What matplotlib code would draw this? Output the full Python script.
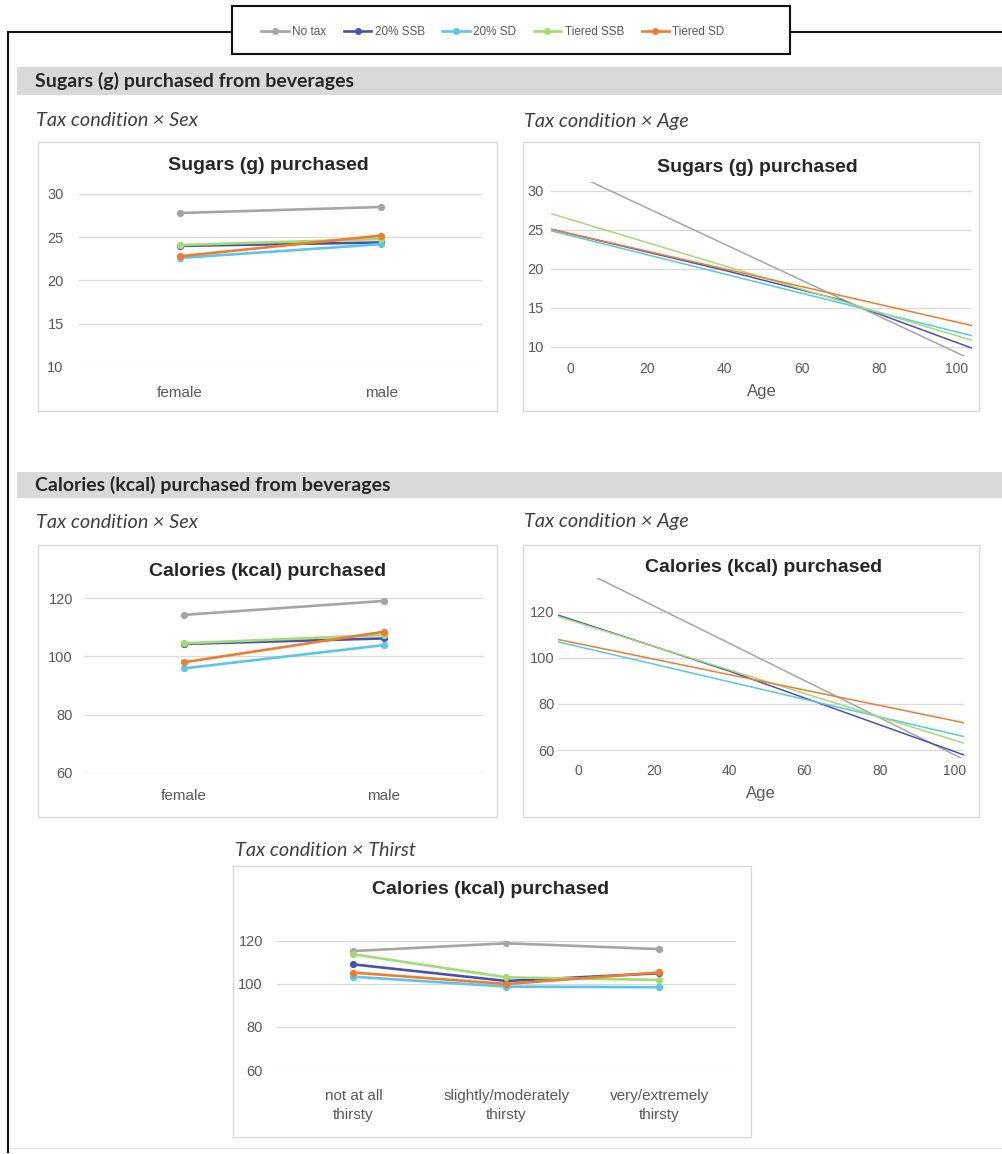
import matplotlib
matplotlib.use("Agg")
import matplotlib.pyplot as plt
from matplotlib.patches import Rectangle
from matplotlib.lines import Line2D

# ---- data -------------------------------------------------------------
conditions = ["No tax", "20% SSB", "20% SD", "Tiered SSB", "Tiered SD"]
colors = ["#A5A5A5", "#4A52B0", "#5BC5EA", "#A2DC72", "#ED7D31"]

sexes = ["female", "male"]
sugar_sex = [[27.8, 28.5], [24.0, 24.4], [22.6, 24.2], [24.1, 24.8], [22.8, 25.2]]

# predicted sugars by age: (age, grams) pairs per tax condition
sugar_age_x = [[-5, 104], [-5, 40, 70, 104], [-5, 104], [-5, 104], [-5, 104]]
sugar_age_y = [[33.6, 8.3], [25.1, 19.8, 16.0, 9.8], [24.9, 11.4], [27.1, 10.8], [25.1, 12.7]]

kcal_sex = [[114.3, 119.1], [104.3, 106.2], [95.9, 103.9], [104.5, 107.4], [98.0, 108.5]]

# predicted calories by age: (age, kcal) pairs per tax condition
kcal_age_x = [[-5.5, 102.5], [-5.5, 40, 102.5], [-5.5, 102.5], [-5.5, 102.5], [-5.5, 102.5]]
kcal_age_y = [[143.2, 55.8], [118.6, 94.3, 57.8], [107.0, 65.8], [118.0, 62.9], [108.0, 71.8]]

thirst_levels = ["not at all\nthirsty", "slightly/moderately\nthirsty",
                 "very/extremely\nthirsty"]
kcal_thirst = [[115.2, 118.8, 116.1], [109.0, 101.3, 104.9], [103.3, 98.7, 98.4],
               [113.7, 103.0, 101.8], [105.2, 99.9, 105.3]]

# ---- layout helpers (pixel coordinates, origin top-left) ---------------
W, H = 1003, 1154
fig = plt.figure(figsize=(W / 100, H / 100), dpi=100)
fig.patch.set_facecolor("white")

CHART_FONT = ["Liberation Sans", "DejaVu Sans"]
DOC_FONT = ["Lato", "DejaVu Sans"]
TICK_C = "#595959"
GRID_C = "#D9D9D9"


def frac_rect(x0, y0, x1, y1):
    return [x0 / W, 1 - y1 / H, (x1 - x0) / W, (y1 - y0) / H]


def fx(x):
    return x / W


def fy(y):
    return 1 - y / H


def box(x0, y0, x1, y1, ec, lw, fc="none", z=1):
    fig.patches.append(Rectangle((fx(x0), fy(y1)), (x1 - x0) / W, (y1 - y0) / H,
                                 transform=fig.transFigure, facecolor=fc,
                                 edgecolor=ec, linewidth=lw, zorder=z))


def hline(x0, x1, y, color, lw, z=1):
    fig.lines.append(Line2D([fx(x0), fx(x1)], [fy(y), fy(y)], transform=fig.transFigure,
                            color=color, linewidth=lw, zorder=z))


def vline(x, y0, y1, color, lw, z=1):
    fig.lines.append(Line2D([fx(x), fx(x)], [fy(y0), fy(y1)], transform=fig.transFigure,
                            color=color, linewidth=lw, zorder=z))


def style_axes(ax, ylim, yticks, ypad, xpad):
    ax.set_facecolor("none")
    for s in ax.spines.values():
        s.set_visible(False)
    ax.set_ylim(*ylim)
    ax.set_yticks(yticks)
    ax.yaxis.grid(True, color=GRID_C, linewidth=0.9)
    ax.set_axisbelow(True)
    ax.tick_params(axis="y", length=0, pad=ypad, labelsize=10.5, labelcolor=TICK_C)
    ax.tick_params(axis="x", length=0, pad=xpad, labelsize=11, labelcolor=TICK_C)
    for lab in ax.get_xticklabels() + ax.get_yticklabels():
        lab.set_family(CHART_FONT)


def chart_title(x, y, text):
    fig.text(fx(x), fy(y), text, ha="center", va="center", fontsize=14,
             fontweight="bold", color="#262626", family=CHART_FONT)


def category_panel(rect, cats, data, ylim, yticks, ypad, xpad, xlim):
    ax = fig.add_axes(frac_rect(*rect))
    idx = list(range(len(cats)))
    for vals, c in zip(data, colors):
        ax.plot(idx, vals, color=c, linewidth=1.9, marker="o", markersize=4.2,
                solid_capstyle="round")
    ax.set_xlim(*xlim)
    ax.set_xticks(idx)
    ax.set_xticklabels(cats, linespacing=1.45)
    style_axes(ax, ylim, yticks, ypad, xpad)
    return ax


def age_panel(rect, xs, ys, ylim, yticks, xlim, ypad):
    ax = fig.add_axes(frac_rect(*rect))
    for ages, vals, c in zip(xs, ys, colors):
        ax.plot(ages, vals, color=c, linewidth=1.1)
    ax.set_xlim(*xlim)
    ax.set_xticks([0, 20, 40, 60, 80, 100])
    style_axes(ax, ylim, yticks, ypad, 4)
    ax.tick_params(axis="x", labelsize=10)
    ax.set_xlabel("Age", fontsize=12, color=TICK_C, family=CHART_FONT, labelpad=6)
    return ax


# ---- document frame ---------------------------------------------------
vline(8.3, 31.7, 1152, "#111111", 1.5)
hline(8.3, 1003, 31.7, "#111111", 1.5)
hline(10, 1003, 1148, "#E6E6E6", 0.8)

# legend box
box(232, 6, 790, 54, "#111111", 1.5, fc="white", z=3)

# section bands
for (y0, y1, text) in [(67, 95, "Sugars (g) purchased from beverages"),
                       (472, 498, "Calories (kcal) purchased from beverages")]:
    box(17, y0, 1003, y1, "none", 0, fc="#D9D9D9", z=0)
    fig.text(fx(35), fy((y0 + y1) / 2), text, ha="left", va="center", fontsize=14,
             fontweight="bold", color="#262626", family=DOC_FONT)

for (x, y, text) in [(36, 121, "Tax condition × Sex"), (524, 121, "Tax condition × Age"),
                     (36, 522, "Tax condition × Sex"), (524, 522, "Tax condition × Age"),
                     (235, 850, "Tax condition × Thirst")]:
    fig.text(fx(x), fy(y), text, ha="left", va="center", fontsize=14.3,
             style="italic", color="#404040", family=DOC_FONT)

# chart frames
PANEL_C = "#D9D9D9"
box(38, 141.7, 497, 411, PANEL_C, 1.0)
box(522.7, 141.7, 979, 411, PANEL_C, 1.0)
box(38, 545, 497, 817, PANEL_C, 1.0)
box(522.7, 545, 979, 817, PANEL_C, 1.0)
box(233, 866, 751, 1137, PANEL_C, 1.0)

# ---- charts -----------------------------------------------------------
chart_title(268, 165, "Sugars (g) purchased")
category_panel((79, 194, 482, 367), sexes, sugar_sex, (10, 30), [10, 15, 20, 25, 30],
               ypad=11, xpad=14, xlim=(-0.5, 1.5))

chart_title(757, 167, "Sugars (g) purchased")
age_panel((550.7, 182.4, 972.2, 356), sugar_age_x, sugar_age_y, (8.8, 31.1),
          [10, 15, 20, 25, 30], xlim=(-5, 104), ypad=5)

chart_title(267.5, 571, "Calories (kcal) purchased")
category_panel((84, 598.3, 484, 772.7), sexes, kcal_sex, (60, 120), [60, 80, 100, 120],
               ypad=8, xpad=12, xlim=(-0.5, 1.5))

chart_title(764, 567, "Calories (kcal) purchased")
age_panel((557.6, 578.3, 964.4, 758.1), kcal_age_x, kcal_age_y, (56.5, 134.5),
          [60, 80, 100, 120], xlim=(-5.5, 102.5), ypad=2)

chart_title(491, 890, "Calories (kcal) purchased")
category_panel((276.8, 940.7, 736, 1070), thirst_levels, kcal_thirst, (60, 120),
               [60, 80, 100, 120], ypad=10, xpad=14, xlim=(-0.5, 2.5))

# ---- legend -----------------------------------------------------------
handles = [Line2D([], [], color=c, linewidth=1.9, marker="o", markersize=4)
           for c in colors]
leg = fig.legend(handles, conditions, loc="center", bbox_to_anchor=(fx(493), fy(32)),
                 ncol=5, frameon=False, handlelength=2.3,
                 handletextpad=0.3, columnspacing=1.5,
                 prop={"family": CHART_FONT, "size": 8.5})
leg.set_zorder(5)
for t in leg.get_texts():
    t.set_color(TICK_C)

fig.savefig("out.png", dpi=100, facecolor="white")
